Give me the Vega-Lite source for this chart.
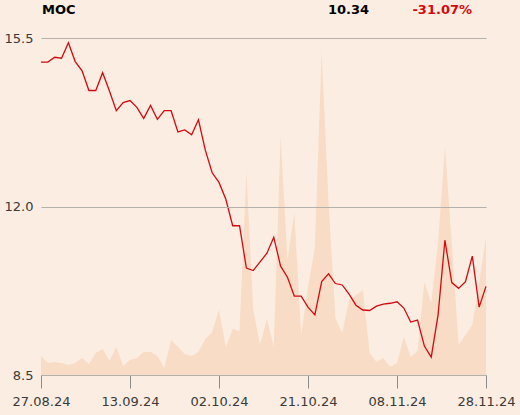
{
  "$schema": "https://vega.github.io/schema/vega-lite/v6.json",
  "width": 445,
  "height": 337,
  "autosize": {"type": "none"},
  "padding": {"left": 41, "top": 38, "right": 34, "bottom": 40},
  "background": "#fbede1",
  "config": {"view": {"stroke": null}, "font": "DejaVu Sans"},
  "data": {"values": [
    {"date": "27.08.24", "price": 15.00, "vol": 19},
    {"date": "28.08.24", "price": 15.00, "vol": 12},
    {"date": "29.08.24", "price": 15.10, "vol": 13},
    {"date": "30.08.24", "price": 15.08, "vol": 12},
    {"date": "02.09.24", "price": 15.40, "vol": 10},
    {"date": "03.09.24", "price": 15.01, "vol": 12},
    {"date": "04.09.24", "price": 14.82, "vol": 17},
    {"date": "05.09.24", "price": 14.41, "vol": 11},
    {"date": "06.09.24", "price": 14.41, "vol": 22},
    {"date": "09.09.24", "price": 14.78, "vol": 26},
    {"date": "10.09.24", "price": 14.40, "vol": 14},
    {"date": "11.09.24", "price": 13.99, "vol": 28},
    {"date": "12.09.24", "price": 14.16, "vol": 9},
    {"date": "13.09.24", "price": 14.20, "vol": 15},
    {"date": "16.09.24", "price": 14.06, "vol": 17},
    {"date": "17.09.24", "price": 13.83, "vol": 23},
    {"date": "18.09.24", "price": 14.10, "vol": 23},
    {"date": "19.09.24", "price": 13.81, "vol": 19},
    {"date": "20.09.24", "price": 13.99, "vol": 7},
    {"date": "23.09.24", "price": 13.99, "vol": 35},
    {"date": "24.09.24", "price": 13.55, "vol": 28},
    {"date": "25.09.24", "price": 13.59, "vol": 21},
    {"date": "26.09.24", "price": 13.49, "vol": 19},
    {"date": "27.09.24", "price": 13.80, "vol": 23},
    {"date": "30.09.24", "price": 13.17, "vol": 36},
    {"date": "01.10.24", "price": 12.70, "vol": 43},
    {"date": "02.10.24", "price": 12.50, "vol": 65},
    {"date": "03.10.24", "price": 12.15, "vol": 28},
    {"date": "04.10.24", "price": 11.60, "vol": 46},
    {"date": "07.10.24", "price": 11.60, "vol": 44},
    {"date": "08.10.24", "price": 10.72, "vol": 203},
    {"date": "09.10.24", "price": 10.67, "vol": 65},
    {"date": "10.10.24", "price": 10.85, "vol": 30},
    {"date": "11.10.24", "price": 11.03, "vol": 56},
    {"date": "14.10.24", "price": 11.36, "vol": 28},
    {"date": "15.10.24", "price": 10.76, "vol": 238},
    {"date": "16.10.24", "price": 10.53, "vol": 115},
    {"date": "17.10.24", "price": 10.14, "vol": 162},
    {"date": "18.10.24", "price": 10.14, "vol": 40},
    {"date": "21.10.24", "price": 9.91, "vol": 88},
    {"date": "22.10.24", "price": 9.75, "vol": 127},
    {"date": "23.10.24", "price": 10.44, "vol": 323},
    {"date": "24.10.24", "price": 10.60, "vol": 172},
    {"date": "25.10.24", "price": 10.40, "vol": 57},
    {"date": "28.10.24", "price": 10.37, "vol": 42},
    {"date": "29.10.24", "price": 10.18, "vol": 75},
    {"date": "30.10.24", "price": 9.95, "vol": 80},
    {"date": "31.10.24", "price": 9.85, "vol": 85},
    {"date": "04.11.24", "price": 9.84, "vol": 22},
    {"date": "05.11.24", "price": 9.93, "vol": 13},
    {"date": "06.11.24", "price": 9.97, "vol": 17},
    {"date": "07.11.24", "price": 9.99, "vol": 8},
    {"date": "08.11.24", "price": 10.02, "vol": 12},
    {"date": "11.11.24", "price": 9.89, "vol": 38},
    {"date": "12.11.24", "price": 9.60, "vol": 18},
    {"date": "13.11.24", "price": 9.64, "vol": 24},
    {"date": "14.11.24", "price": 9.10, "vol": 93},
    {"date": "15.11.24", "price": 8.87, "vol": 72},
    {"date": "18.11.24", "price": 9.75, "vol": 132},
    {"date": "19.11.24", "price": 11.30, "vol": 228},
    {"date": "20.11.24", "price": 10.42, "vol": 132},
    {"date": "21.11.24", "price": 10.30, "vol": 30},
    {"date": "22.11.24", "price": 10.44, "vol": 40},
    {"date": "25.11.24", "price": 10.97, "vol": 50},
    {"date": "26.11.24", "price": 9.91, "vol": 92},
    {"date": "28.11.24", "price": 10.34, "vol": 138}
  ]},
  "encoding": {
    "x": {
      "field": "date",
      "type": "ordinal",
      "sort": null,
      "scale": {"type": "point", "padding": 0},
      "axis": {
        "title": null,
        "values": ["27.08.24", "13.09.24", "02.10.24", "21.10.24", "08.11.24", "28.11.24"],
        "labelAngle": 0,
        "labelFontSize": 13,
        "labelColor": "#3a3a3a",
        "labelPadding": 7,
        "labelOverlap": false,
        "labelBound": false,
        "labelFlush": false,
        "tickSize": 13,
        "tickColor": "#8c8c8c",
        "domainColor": "#8c8c8c",
        "grid": false
      }
    }
  },
  "layer": [
    {
      "mark": {"type": "area", "color": "#f8dcc6", "opacity": 1, "interpolate": "linear"},
      "encoding": {
        "y": {"field": "vol", "type": "quantitative", "scale": {"domain": [0, 337], "nice": false}, "axis": null}
      }
    },
    {
      "mark": {"type": "line", "color": "#d20a0f", "strokeWidth": 1.3},
      "encoding": {
        "y": {
          "field": "price",
          "type": "quantitative",
          "scale": {"domain": [8.5, 15.5], "nice": false, "zero": false},
          "axis": {
            "title": null,
            "values": [8.5, 12, 15.5],
            "format": ".1f",
            "domain": false,
            "ticks": false,
            "labelFontSize": 13,
            "labelColor": "#3a3a3a",
            "labelPadding": 8,
            "grid": true,
            "gridColor": "#b4b0ab",
            "gridWidth": 1,
            "zindex": 1
          }
        }
      }
    },
    {
      "transform": [{"filter": "datum.date == '27.08.24'"}],
      "mark": {"type": "text", "align": "left", "baseline": "middle", "fontWeight": "bold", "fontSize": 13, "color": "#000000", "dx": 1},
      "encoding": {
        "y": {"datum": 16.09, "scale": {"domain": [8.5, 15.5], "nice": false, "zero": false}, "axis": null},
        "text": {"value": "MOC"}
      }
    },
    {
      "transform": [{"filter": "datum.date == '28.11.24'"}],
      "mark": {"type": "text", "align": "right", "baseline": "middle", "fontWeight": "bold", "fontSize": 13, "color": "#000000", "dx": -117},
      "encoding": {
        "y": {"datum": 16.09, "scale": {"domain": [8.5, 15.5], "nice": false, "zero": false}, "axis": null},
        "text": {"field": "price", "type": "quantitative", "format": ".2f"}
      }
    },
    {
      "transform": [{"filter": "datum.date == '28.11.24'"}],
      "mark": {"type": "text", "align": "right", "baseline": "middle", "fontWeight": "bold", "fontSize": 13, "color": "#d20a0f", "dx": -14},
      "encoding": {
        "y": {"datum": 16.09, "scale": {"domain": [8.5, 15.5], "nice": false, "zero": false}, "axis": null},
        "text": {"value": "-31.07%"}
      }
    }
  ],
  "resolve": {"scale": {"y": "independent"}}
}
